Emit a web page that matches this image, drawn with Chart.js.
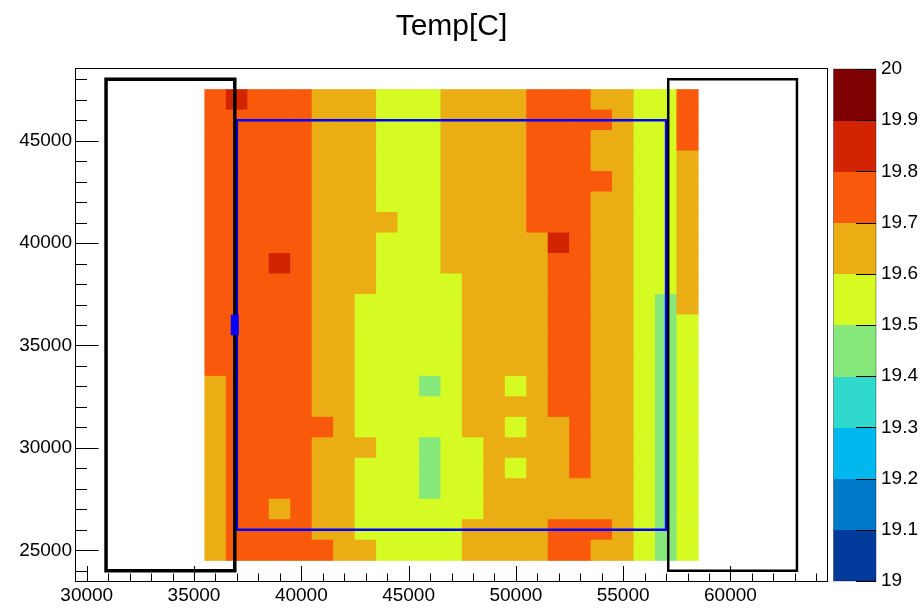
<!DOCTYPE html>
<html><head><meta charset="utf-8">
<script src="https://cdn.jsdelivr.net/npm/chart.js@4/dist/chart.umd.min.js"></script>
<style>html,body{margin:0;padding:0;background:#fff}#wrap{width:921px;height:609px}</style>
</head><body><div id="wrap"><canvas id="c" width="921" height="609"></canvas></div>
<script>
const chartTitle = 'Temp[C]';
// bin centres (bin width 1000)
const xCenters = [36000,37000,38000,39000,40000,41000,42000,43000,44000,45000,46000,47000,48000,49000,50000,51000,52000,53000,54000,55000,56000,57000,58000];
const yCenters = [47000,46000,45000,44000,43000,42000,41000,40000,39000,38000,37000,36000,35000,34000,33000,32000,31000,30000,29000,28000,27000,26000,25000];
const binWidth = 1000;
// temperature per cell, rows top (47000) to bottom (25000)
const tempRows = [
[19.75,19.85,19.75,19.75,19.75,19.65,19.65,19.65,19.55,19.55,19.55,19.65,19.65,19.65,19.65,19.75,19.75,19.75,19.65,19.65,19.55,19.55,19.75],
[19.75,19.75,19.75,19.75,19.75,19.65,19.65,19.65,19.55,19.55,19.55,19.65,19.65,19.65,19.65,19.75,19.75,19.75,19.75,19.65,19.55,19.55,19.75],
[19.75,19.75,19.75,19.75,19.75,19.65,19.65,19.65,19.55,19.55,19.55,19.65,19.65,19.65,19.65,19.75,19.75,19.75,19.65,19.65,19.55,19.55,19.75],
[19.75,19.75,19.75,19.75,19.75,19.65,19.65,19.65,19.55,19.55,19.55,19.65,19.65,19.65,19.65,19.75,19.75,19.75,19.65,19.65,19.55,19.55,19.65],
[19.75,19.75,19.75,19.75,19.75,19.65,19.65,19.65,19.55,19.55,19.55,19.65,19.65,19.65,19.65,19.75,19.75,19.75,19.75,19.65,19.55,19.55,19.65],
[19.75,19.75,19.75,19.75,19.75,19.65,19.65,19.65,19.55,19.55,19.55,19.65,19.65,19.65,19.65,19.75,19.75,19.75,19.65,19.65,19.55,19.55,19.65],
[19.75,19.75,19.75,19.75,19.75,19.65,19.65,19.65,19.65,19.55,19.55,19.65,19.65,19.65,19.65,19.75,19.75,19.75,19.65,19.65,19.55,19.55,19.65],
[19.75,19.75,19.75,19.75,19.75,19.65,19.65,19.65,19.55,19.55,19.55,19.65,19.65,19.65,19.65,19.65,19.85,19.75,19.65,19.65,19.55,19.55,19.65],
[19.75,19.75,19.75,19.85,19.75,19.65,19.65,19.65,19.55,19.55,19.55,19.65,19.65,19.65,19.65,19.65,19.75,19.75,19.65,19.65,19.55,19.55,19.65],
[19.75,19.75,19.75,19.75,19.75,19.65,19.65,19.65,19.55,19.55,19.55,19.55,19.65,19.65,19.65,19.65,19.75,19.75,19.65,19.65,19.55,19.55,19.65],
[19.75,19.75,19.75,19.75,19.75,19.65,19.65,19.55,19.55,19.55,19.55,19.55,19.65,19.65,19.65,19.65,19.75,19.75,19.65,19.65,19.55,19.45,19.65],
[19.75,19.75,19.75,19.75,19.75,19.65,19.65,19.55,19.55,19.55,19.55,19.55,19.65,19.65,19.65,19.65,19.75,19.75,19.65,19.65,19.55,19.45,19.55],
[19.75,19.75,19.75,19.75,19.75,19.65,19.65,19.55,19.55,19.55,19.55,19.55,19.65,19.65,19.65,19.65,19.75,19.75,19.65,19.65,19.55,19.45,19.55],
[19.75,19.75,19.75,19.75,19.75,19.65,19.65,19.55,19.55,19.55,19.55,19.55,19.65,19.65,19.65,19.65,19.75,19.75,19.65,19.65,19.55,19.45,19.55],
[19.65,19.75,19.75,19.75,19.75,19.65,19.65,19.55,19.55,19.55,19.45,19.55,19.65,19.65,19.55,19.65,19.75,19.75,19.65,19.65,19.55,19.45,19.55],
[19.65,19.75,19.75,19.75,19.75,19.65,19.65,19.55,19.55,19.55,19.55,19.55,19.65,19.65,19.65,19.65,19.75,19.75,19.65,19.65,19.55,19.45,19.55],
[19.65,19.75,19.75,19.75,19.75,19.75,19.65,19.55,19.55,19.55,19.55,19.55,19.65,19.65,19.55,19.65,19.65,19.75,19.65,19.65,19.55,19.45,19.55],
[19.65,19.75,19.75,19.75,19.75,19.65,19.65,19.65,19.55,19.55,19.45,19.55,19.55,19.65,19.65,19.65,19.65,19.75,19.65,19.65,19.55,19.45,19.55],
[19.65,19.75,19.75,19.75,19.75,19.65,19.65,19.55,19.55,19.55,19.45,19.55,19.55,19.65,19.55,19.65,19.65,19.75,19.65,19.65,19.55,19.45,19.55],
[19.65,19.75,19.75,19.75,19.75,19.65,19.65,19.55,19.55,19.55,19.45,19.55,19.55,19.65,19.65,19.65,19.65,19.65,19.65,19.65,19.55,19.45,19.55],
[19.65,19.75,19.75,19.65,19.75,19.65,19.65,19.55,19.55,19.55,19.55,19.55,19.55,19.65,19.65,19.65,19.65,19.65,19.65,19.65,19.55,19.45,19.55],
[19.65,19.75,19.75,19.75,19.75,19.65,19.65,19.55,19.55,19.55,19.55,19.55,19.65,19.65,19.65,19.65,19.75,19.75,19.75,19.65,19.55,19.45,19.55],
[19.65,19.75,19.75,19.75,19.75,19.75,19.65,19.65,19.55,19.55,19.55,19.55,19.65,19.65,19.65,19.65,19.75,19.75,19.65,19.65,19.55,19.45,19.55]
];
const xRange = [29500, 64500];
const yRange = [23500, 48500];
const xTickValues = [30000,35000,40000,45000,50000,55000,60000];
const xTickLabels = ['30000','35000','40000','45000','50000','55000','60000'];
const yTickValues = [25000,30000,35000,40000,45000];
const yTickLabels = ['25000','30000','35000','40000','45000'];
const zRange = [19, 20];
const zTickValues = [19,19.1,19.2,19.3,19.4,19.5,19.6,19.7,19.8,19.9,20];
const zTickLabels = ['19','19.1','19.2','19.3','19.4','19.5','19.6','19.7','19.8','19.9','20'];
const paletteColors = ['#003a9b','#0079c8','#00b8ee','#2fd9cb','#86e87a','#d5fb22','#eaae14','#f8590a','#d22400','#7f0000'];
const leftBoxX = [30900, 36900], leftBoxY = [24000, 48000];
const rightBoxX = [57100, 63100], rightBoxY = [24000, 48000];
const blueBoxX = [37000, 57000], blueBoxY = [26000, 46000];
const markerX = [36900, 36900], markerY = [35500, 36500];

const FONT = "'Liberation Sans', Arial, Helvetica, sans-serif";

function colorFor(v) {
  let k = Math.floor((v - zRange[0]) / ((zRange[1] - zRange[0]) / paletteColors.length) + 1e-9);
  k = Math.max(0, Math.min(paletteColors.length - 1, k));
  return paletteColors[k];
}
const cells = [];
yCenters.forEach((yc, i) => xCenters.forEach((xc, j) => {
  cells.push({x: xc, y: [yc - binWidth / 2, yc + binWidth / 2], v: tempRows[i][j]});
}));
function rectPath(xs, ys) {
  return [{x: xs[0], y: ys[0]}, {x: xs[1], y: ys[0]}, {x: xs[1], y: ys[1]}, {x: xs[0], y: ys[1]}, {x: xs[0], y: ys[0]}, {x: xs[1], y: ys[0]}];
}

const rootPlugin = {
  id: 'rootStyle',
  afterDatasetsDraw(chart) {
    const {ctx, chartArea: a, scales} = chart;
    ctx.save();
    ctx.strokeStyle = '#000';
    ctx.lineWidth = 1;
    ctx.beginPath();
    for (let v = 30000; v <= 64000; v += 1000) {
      const major = xTickValues.includes(v);
      const px = Math.round(scales.x.getPixelForValue(v)) + 0.5;
      ctx.moveTo(px, a.bottom); ctx.lineTo(px, a.bottom - (major ? 15 : 7.5));
    }
    for (let v = 24000; v <= 48000; v += 1000) {
      const major = yTickValues.includes(v);
      const py = Math.round(scales.y.getPixelForValue(v)) + 0.5;
      ctx.moveTo(a.left, py); ctx.lineTo(a.left + (major ? 22.5 : 11), py);
    }
    ctx.stroke();
    ctx.strokeRect(Math.round(a.left) - 0.5, Math.round(a.top) - 0.5, Math.round(a.right - a.left) + 1, Math.round(a.bottom - a.top) + 1);
    // colour bar
    const z = scales.z;
    const x0 = a.right + 6.5, x1 = a.right + 49;
    for (let k = 0; k < paletteColors.length; k++) {
      const lo = zTickValues[k], hi = zTickValues[k + 1];
      const y0 = z.getPixelForValue(hi), y1 = z.getPixelForValue(lo);
      ctx.fillStyle = paletteColors[k];
      ctx.fillRect(x0, Math.floor(y0), x1 - x0, Math.ceil(y1) - Math.floor(y0));
    }
    ctx.strokeStyle = 'rgba(0,0,0,0.35)';
    ctx.strokeRect(x0, z.getPixelForValue(zRange[1]), x1 - x0, z.getPixelForValue(zRange[0]) - z.getPixelForValue(zRange[1]));
    ctx.strokeStyle = '#000';
    ctx.beginPath();
    zTickValues.forEach(v => {
      const py = Math.round(z.getPixelForValue(v)) + 0.5;
      ctx.moveTo(x1, py); ctx.lineTo(x1 - 20, py);
    });
    ctx.stroke();
    ctx.restore();
  }
};

new Chart(document.getElementById('c'), {
  type: 'bar',
  data: {
    datasets: [
      {type: 'line', data: rectPath(leftBoxX, leftBoxY), borderColor: '#000', borderWidth: 3.5, pointRadius: 0, fill: false, tension: 0, borderJoinStyle: 'miter', order: 1, xAxisID: 'x', yAxisID: 'y'},
      {type: 'line', data: rectPath(rightBoxX, rightBoxY), borderColor: '#000', borderWidth: 2.5, pointRadius: 0, fill: false, tension: 0, borderJoinStyle: 'miter', order: 1, xAxisID: 'x', yAxisID: 'y'},
      {type: 'line', data: markerX.map((x, i) => ({x, y: markerY[i]})), borderColor: '#0000ff', borderWidth: 8, borderCapStyle: 'butt', pointRadius: 0, fill: false, order: 0, xAxisID: 'x', yAxisID: 'y'},
      {type: 'line', data: rectPath(blueBoxX, blueBoxY), borderColor: '#0000ff', borderWidth: 2.5, pointRadius: 0, fill: false, tension: 0, borderJoinStyle: 'miter', order: 2, xAxisID: 'x', yAxisID: 'y'},
      {type: 'bar', data: cells, backgroundColor: (c) => c.raw ? colorFor(c.raw.v) : paletteColors[0], borderWidth: 0, barPercentage: 1, categoryPercentage: 1, order: 10, xAxisID: 'x', yAxisID: 'y'}
    ]
  },
  options: {
    responsive: false,
    animation: false,
    events: [],
    layout: {padding: 0},
    plugins: {
      legend: {display: false},
      tooltip: {enabled: false},
      title: {display: true, text: chartTitle, fullSize: false, color: '#000', font: {family: FONT, size: 30, weight: 'normal', lineHeight: 1.2}, padding: {top: 9, bottom: 24}}
    },
    scales: {
      x: {type: 'linear', min: xRange[0], max: xRange[1], offset: false, position: 'bottom',
          grid: {display: false, drawTicks: false}, border: {display: false},
          afterBuildTicks: (s) => { s.ticks = xTickValues.map(v => ({value: v})); },
          afterFit: (s) => { s.height = 28; },
          ticks: {autoSkip: false, maxRotation: 0, padding: 3, color: '#000', font: {family: FONT, size: 19}, callback: (v, i) => xTickLabels[i]}},
      y: {type: 'linear', min: yRange[0], max: yRange[1], position: 'left',
          grid: {display: false, drawTicks: false}, border: {display: false},
          afterBuildTicks: (s) => { s.ticks = yTickValues.map(v => ({value: v})); },
          afterFit: (s) => { s.width = 76; },
          ticks: {autoSkip: false, padding: 4, color: '#000', font: {family: FONT, size: 19}, callback: (v, i) => yTickLabels[i]}},
      z: {type: 'linear', axis: 'y', min: zRange[0], max: zRange[1], position: 'right', display: true,
          grid: {display: false, drawTicks: true, tickLength: 49}, border: {display: false},
          afterBuildTicks: (s) => { s.ticks = zTickValues.map(v => ({value: v})); },
          afterFit: (s) => { s.width = 94; },
          ticks: {autoSkip: false, padding: 5, color: '#000', font: {family: FONT, size: 19}, callback: (v, i) => zTickLabels[i]}}
    }
  },
  plugins: [rootPlugin]
});
</script></body></html>
